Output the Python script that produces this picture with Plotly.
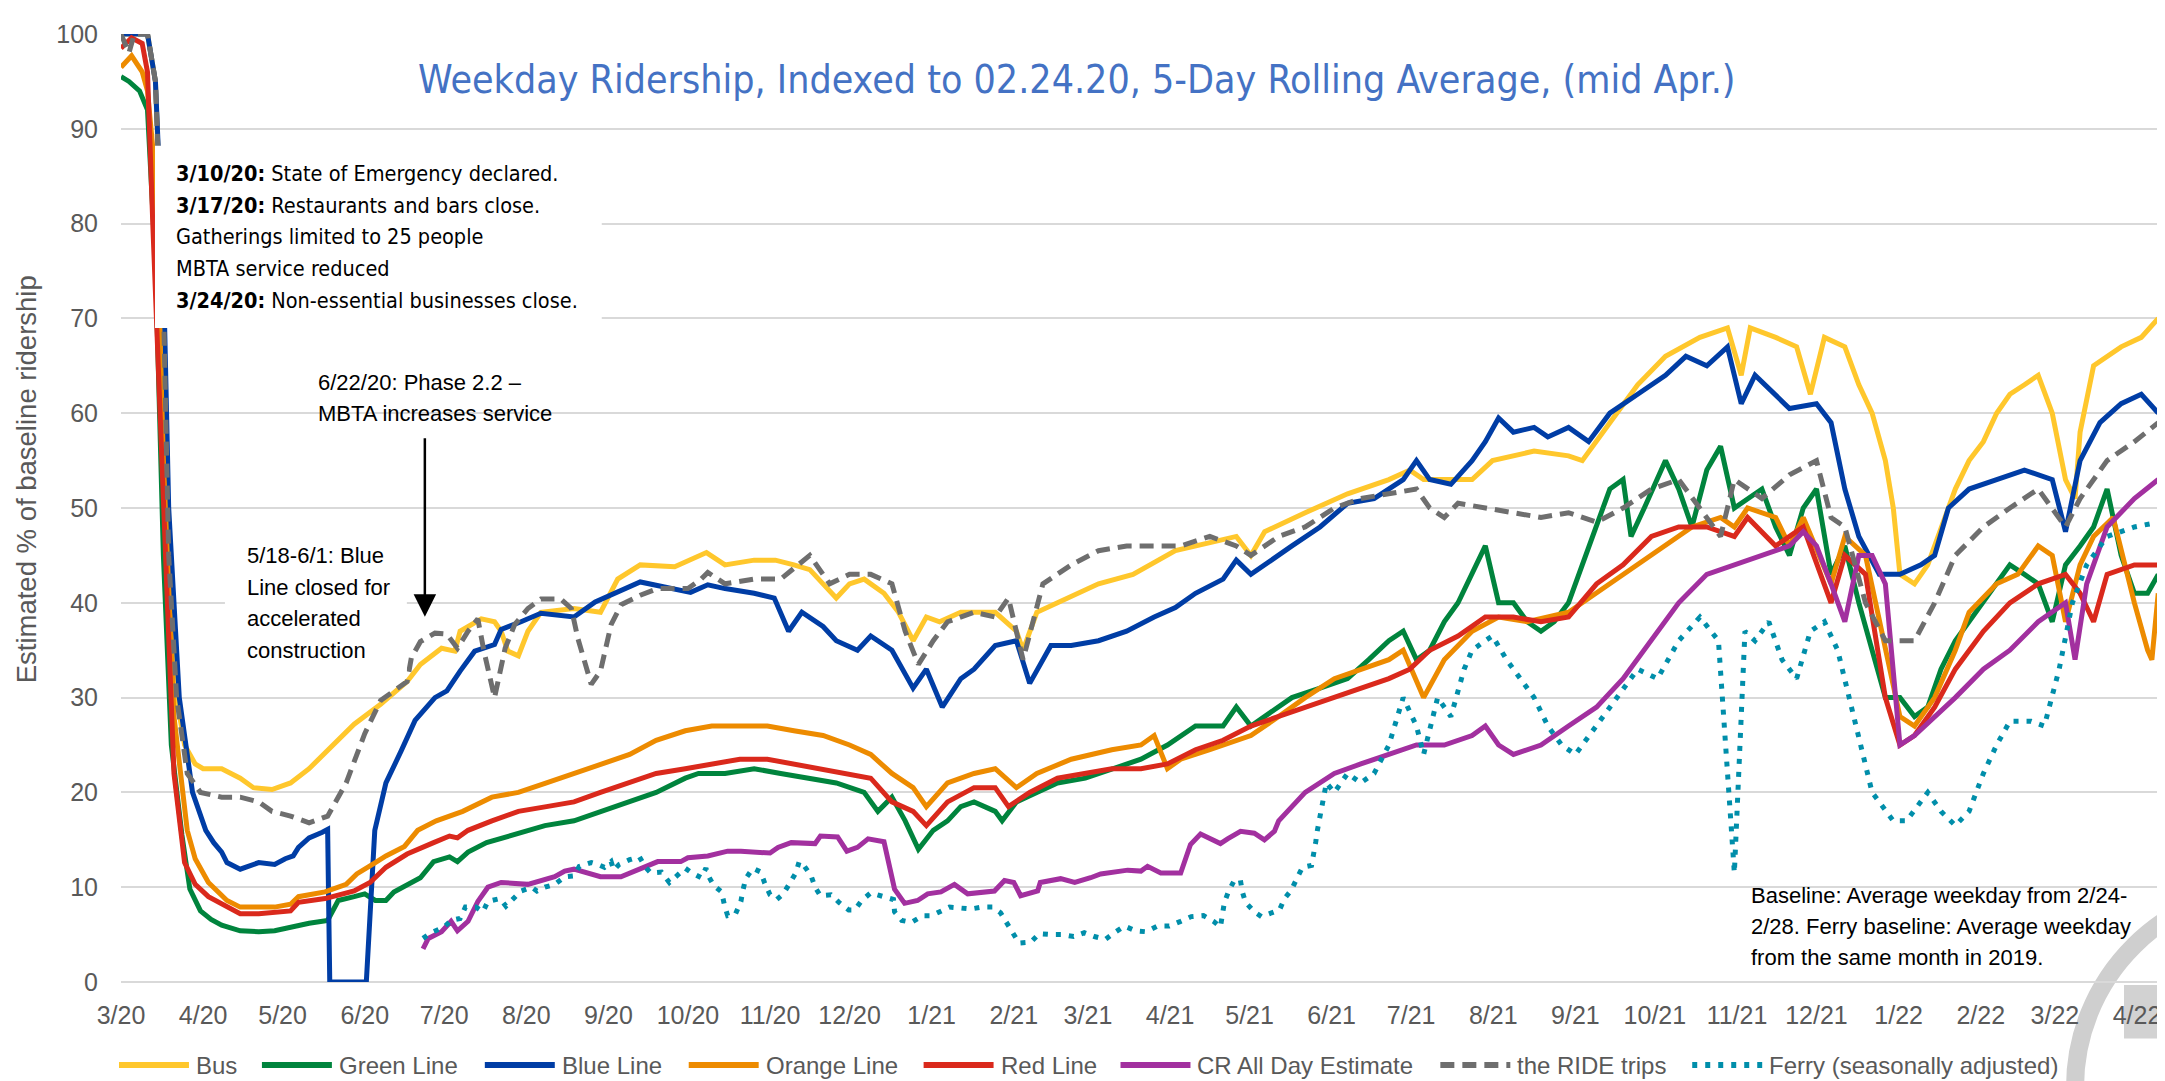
import pandas as pd
import plotly.graph_objects as go

START = pd.Timestamp("2020-03-01")
AXIS_END = "2022-04-09 07:00"

MONTH_TICKS = pd.date_range("2020-03-01", "2022-04-01", freq="MS")
MONTH_LABELS = [f"{d.month}/{d.year % 100}" for d in MONTH_TICKS]

# [days since 2020-03-01, % of baseline]
BUS = [(0,100),(10,100),(13,95),(16,72),(18,45),(21,30),(24,25),(28,23),(31,22.5),(38,22.5),(45,21.5),(50,20.5),(57,20.3),(64,21),(71,22.5),(78,24.4),(88,27.2),(98,29.3),(108,31.7),(113,33.5),(121,35.2),(126,34.9),(128,37),(136,38.3),(141,38),(143.5,37),(146,34.9),(150,34.4),(153.6,37),(158.5,39),(171,39.4),(181,39),(187.5,42.5),(196,44),(209,43.8),(221,45.3),
       (228,44),(239,44.5),(247,44.5),(254,44),(260,43.5),(265,42),(270,40.5),(275,42),(280.5,42.5),(288,41),(293.5,39),(299,36),(304,38.5),(309,38),(317,39),(330,39),(338,37),(340.5,35),(345.7,39),(353.5,40),(369,42),(382,43),(398,45.5),(413.5,46.5),(421,47),(426.5,45),(431.7,47.5),(447,49.5),(463,51.5),(478.6,53),(486.5,54),(491.7,53),(510,53),(517.7,55),(533.4,56),(546.4,55.5),(551.6,55),(562,59),(572.5,63),(583,66),(596,68),(606.4,69),(611.6,64),(615,69),(624.6,68),(632.5,67),(637.7,62),(643,68),(650.7,67),(656,63),(661,60),(666,55),(669,50),(671.5,43),(677,42),(682,44),(687,48),(692.4,52),(697.6,55),(703,57),(708,60),(713,62),(718.5,63),(723.7,64),(729,60),(734,53),(737.6,51),(739.5,58),(744.6,65),(749.7,66),(755,67),(762.6,68),(769,70)]

GREEN = [(0,95.5),(3,95),(7,94),(10,92),(13,76),(16,45),(19,25),(23,15.5),(26,9.8),(30,7.5),(34,6.6),(38,6),(45,5.4),(52,5.3),(58,5.4),(64,5.8),(71,6.2),(78,6.5),(82,8.6),(88,9.0),(92,9.3),(96,8.6),(100,8.6),(103,9.5),(108,10.3),(113,11),(118,12.7),(124,13.2),(127,12.7),(131,13.7),(138,14.7),(146,15.4),(153,16),
         (160,16.5),(171,17),(181,18),(192,19),(202,20),(213,21.5),(218,22),(228,22),(239,22.5),(249,22),(260,21.5),(270,21),(280.5,20),(285.7,18),(291,19.5),(296,17),(301,14),(306.6,16),(312,17),(317,18.5),(322,19),(330,18),(332.6,17),(338,19),(345.7,20),(353.5,21),(364,21.5),(374,22.5),(385,23.5),(395,25),(400,26),(405.6,27),(416,27),(421,29),(426.5,27),(431.7,28),(442,30),(452.6,31),(463,32),(471,34),(478.6,36),(484,37),(489,34),(494,35),(499.5,38),(504.7,40),(510,43),(515,46),(520,40),(525.6,40),(530.8,38),(536,37),(541,38),(546.4,40),(551.6,44),(557,48),(562,52),(567,53),(570,47),(575,50),(583,55),(588,52),(593,48),(598.6,54),(603.8,56.5),(609,50),(614,51),(619.4,52),(624.6,48),(629.8,45),(635,50),(640,52),(645.5,43),(650.7,46),(656,40),(661,35),(666,30),(671.5,30),(677,28),(682,29),(687,33),(692.4,36),(697.6,38),(703,40),(708,42),(713,44),(718.5,43),(723.7,42),(729,38),(734,44),(739.5,46),(744.6,48),(749.7,52),(755,45),(760,41),(765,41),(769,43)]

BLUE = [(0,100),(10,100),(13,95),(16,75),(18,50),(22,30),(27,20),(32,16),(35,14.7),(38,13.7),(40,12.6),(45,11.9),(52,12.6),(58,12.4),(62,13),(65,13.3),(67,14.2),(71,15.2),(76,15.8),(78,16.1),(78.8,0),(92.6,0),(95.8,16),(100,21),(105.8,24.4),(111,27.6),(118.5,30),(123,30.7),(128,32.8),(133.5,34.9),(141,35.6),(143.5,37.2),(151,38),(158.5,38.9),(171,38.5),(179,40.1),(196,42.2),(201.5,41.9),(215,41.1),(221.5,41.9),
        (228,41.5),(239,41),(246.6,40.5),(252,37),(257,39),(265,37.5),(270,36),(278,35),(283,36.5),(291,35),(299,31),(304,33),(310,29),(317,32),(322,33),(330,35.5),(338,36),(343,31.5),(351,35.5),(358.7,35.5),(369,36),(379.6,37),(390,38.5),(398,39.5),(405.6,41),(416,42.5),(421,44.5),(426.5,43),(434,44.5),(442,46),(452.6,48),(463,50.5),(473,51),(484,53),(489,55),(494,53),(502,52.5),(510,55),(515,57),(520,59.5),(525.6,58),(533.4,58.5),(538.6,57.5),(546.4,58.5),(554,57),(562,60),(572.5,62),(583,64),(590.7,66),(598.6,65),(606.4,67),(611.6,61),(616.8,64),(624.6,62),(629.8,60.5),(640,61),(645.5,59),(650.7,52),(656,47),(663.7,43),(671.5,43),(679.4,44),(684.6,45),(689.8,50),(697.6,52),(708,53),(718.5,54),(729,53),(734,47.5),(739.5,55),(747,59),(755,61),(762.6,62),(769,60)]

ORANGE = [(0,96.5),(4,97.7),(8,96),(10,94),(13,85),(16,55),(20,28),(25,16),(28,13),(33,10.5),(40,8.6),(45,7.9),(58,7.9),(64,8.2),(67,9),(77,9.5),(85,10.3),(89,11.4),(96,12.6),(100,13.3),(107,14.3),(112,16),
          (119,17),(129,18),(140,19.5),(150,20),(160.6,21),(171,22),(181,23),(192,24),(202,25.5),(213,26.5),(223,27),(233.6,27),(244,27),(254,26.5),(265,26),(275,25),(283,24),(291,22),(299,20.5),(304,18.5),(312,21),(322,22),(330,22.5),(338,20.5),(345.7,22),(358.7,23.5),(374,24.5),(385,25),(390,26),(395,22.5),(400,23.5),(411,24.5),(421,25.5),(426.5,26),(437,28),(447,30),(458,32),(468,33),(478.6,34),(484,35),(491.7,30),(499.5,34),(510,37),(520,38.5),(530.8,38),(546.4,39),(551.6,40),(562,42),(572.5,44),(583,46),(593,48),(603.8,49),(609,48),(614,50),(624.6,49),(629.8,46),(635,49),(645.5,42),(650.7,47),(658.5,45),(666,35),(671.5,28),(677,27),(684.6,30),(692.4,35),(697.6,39),(708,42),(716,43),(723.7,46),(729,45),(734,38),(739.5,44),(744.6,47),(752,49),(760,40),(765,35),(766.6,34),(769,41)]

RED = [(0,98.5),(4,99.6),(8,99),(10,96),(12,80),(16,50),(20,22),(24,12.6),(28,10.3),(33,9),(40,8),(45,7.2),(52,7.2),(58,7.4),(64,7.5),(67,8.4),(77,8.8),(88,9.6),(94,10.5),(100,12.1),(108,13.5),(118,14.7),(124,15.4),(127,15.2),(131,16),
       (140,17),(150,18),(160.6,18.5),(171,19),(181,20),(192,21),(202,22),(213,22.5),(223,23),(233.6,23.5),(244,23.5),(254,23),(265,22.5),(275,22),(283,21.5),(291,19),(299,18),(304,16.5),(312,19),(322,20.5),(330,20.5),(335,18.5),(343,20),(353.5,21.5),(364,22),(374,22.5),(385,22.5),(395,23),(405.6,24.5),(416,25.5),(426.5,27),(437,28),(447,29),(458,30),(468,31),(478.6,32),(486.5,33),(494,35),(504.7,36.5),(515,38.5),(525.6,38.5),(536,38),(546.4,38.5),(557,42),(567,44),(577.7,47),(588,48),(598.6,48),(609,47),(614,49),(624.6,46),(635,48),(645.5,40),(650.7,45),(658.5,43),(666,30),(671.5,25),(677,26),(684.6,29),(692.4,33),(703,37),(713,40),(723.7,42),(734,43),(739.5,41),(744.6,38),(749.7,43),(760,44),(769,44)]

CR = [(114,3.5),(116,4.6),(121,5.3),(124.6,6.4),(127,5.4),(131,6.4),(134.7,8.5),(138.5,10),(143.5,10.5),(153.6,10.3),(163.7,11.1),(167.5,11.7),(171,11.9),(181,11.1),(188.7,11.1),(194,11.7),(199,12.2),(202.6,12.7),(211.3,12.7),(214,13.1),(221.5,13.3),(229,13.8),(234,13.8),(245,13.6),(248,14.2),(253,14.7),(262,14.6),(264,15.4),(270.5,15.3),(274,13.8),(278,14.2),(282,15.1),(288,14.8),(292,9.8),(295.8,8.3),(300.7,8.6),(304.5,9.3),(309.5,9.5),(314.6,10.3),(319.6,9.3),(329.7,9.6),(333.5,10.7),(337,10.5),(339.6,9.1),(346,9.6),(347,10.5),(354.7,10.9),(360,10.5),(366,11),(369.8,11.4),(380,11.8),(385,11.7),(387.5,12.2),(392.5,11.5),(400,11.5),(403.7,14.5),(407.5,15.6),(415,14.6),(417.7,15.1),(422.6,15.9),(427.8,15.7),(431.6,15),(435.4,15.9),
      (437,17),(447,20),(458,22),(468,23),(478.6,24),(489,25),(499.5,25),(510,26),(515,27),(520,25),(525.6,24),(536,25),(546.4,27),(557,29),(567,32),(577.7,36),(588,40),(598.6,43),(609,44),(619.4,45),(629.8,46),(635,47.5),(640,46),(645.5,42),(650.7,38),(656,45),(661,45),(666,42),(671.5,25),(677,26),(684.6,28),(692.4,30),(703,33),(713,35),(723.7,38),(734,40),(737.6,34),(742,42),(749.7,48),(760,51),(769,53)]

RIDE = [(0,100),(3,98),(5,100),(10,100),(13,95),(16,72),(18,45),(21,30),(25,22),(30,20),(38,19.5),(45,19.5),(52,19),(57,18),(64,17.5),(71,16.8),(78,17.5),(85,21),(92,26.2),(98,29.7),(103,30.7),(108,31.7),(109.6,34.2),(113,35.9),(118.5,36.8),(123,36.7),(127,35.2),(131,37),(134.7,38.3),(137,34.9),(141,30),(145,35.2),(148.6,37.7),(153.6,39.4),(158.5,40.4),(166,40.4),(170,39.4),(172.5,36.2),(177.5,31.4),(181,32.8),(185,37.7),(188.8,39.8),(196,40.8),(202.6,41.5),(214,41.5),(219,42.5),(221.5,43.2),
        (228,42),(239,42.5),(249,42.5),(260,45),(267.5,42),(275,43),(283,43),(291,42),(296,37),(301,33.5),(306.6,36),(312,38),(322,39),(330,38.5),(335,40.5),(340.5,34),(348,42),(358.7,44),(369,45.5),(379.6,46),(390,46),(400,46),(411,47),(421,46),(426.5,45),(437,47),(447,48),(458,50),(468,51),(478.6,51.5),(489,52),(494,50),(499.5,49),(504.7,50.5),(515,50),(525.6,49.5),(536,49),(546.4,49.5),(557,48.5),(567,50),(577.7,52),(588,53),(596,50),(603.8,47),(609,53),(619.4,51),(629.8,53.5),(640,55),(645.5,49),(650.7,48),(658.5,40),(666,36),(677,36),(684.6,40),(692.4,45),(703,48),(713,50),(723.7,52),(734,48),(739.5,51),(749.7,55),(760,57),(769,59)]

FERRY = [(114,4.6),(117,5.2),(122,5.8),(124.6,6.5),(128,6.7),(130,7.9),(134,7.9),(136.6,7.4),(138.5,8.5),(143,8.8),(145.3,8.0),(148,8.8),(151,9.6),(155,10),(157,9.6),(160,10),(163.7,10.3),(167.5,11.1),(171,11.2),(173,12.2),(177.5,12.6),(180,12.4),(182.5,12.1),(185,12.7),(186,11.8),(188,12.4),(192,12.9),(195.7,13.2),(197.7,12.2),(200,11.5),(204,11.6),(207,10.5),(209.5,11.2),(213,12.0),(215,11.6),(219,11),(220.8,12),(221.5,11.3),(223.7,10.2),(226.7,9.5),(227.8,8.1),(229,7.0),(232,7.2),(234,8.5),(234.7,9.6),(235.8,10.9),(238.5,12),(241.5,11.6),(243,10.4),(245,9.2),(247.5,8.7),(250,9.3),(252.4,10.4),(254.7,11.5),(256,12.7),(258,12.2),(260.5,11.2),(262,10),(264,9.1),(268,9.2),(271,8.4),(274.7,7.6),(277,7.6),(279.6,8.6),(283,9.4),(287.5,9.1),(291.6,8.7),(292,7.4),(294.7,6.5),(298.4,6.3),(302.6,7.0),(306,7.0),(309.7,7.5),(312.7,7.9),(317,7.8),(320.7,7.7),(325,7.9),(329,7.9),(332,7.3),(334.3,6.3),(337,5.2),(339,4.1),(343.4,4.2),(346.6,5.1),(351,5.0),(355.4,5.0),(359.6,4.8),(363.6,5.2),(367.4,4.8),(371.6,4.5),(375,5.2),(378.8,5.9),(383,5.4),(387,5.3),(391.3,5.9),(395.7,5.9),(400,6.4),(404,6.9),(408.6,7.0),(412.4,6.4),(415,5.8),(415.8,7.0),(416.5,8.4),(418,9.5),(420,10.6),(422.5,10.8),(423.3,9.5),(424.5,8.4),(427.8,7.4),(430.5,6.9),(433.9,7.3),(437.3,7.6),(439.2,8.8),(441.8,9.7),(443.8,10.9),(446,12.1),(449.4,12.3),(450.5,13.7),(451,14.8),(451.6,16),
         (455,21),(458,20),(463,22),(468,21),(473,22),(478.6,25),(484,30),(489,27),(491.7,24),(497,30),(502,28),(507,33),(510,35),(515,36),(517.7,36.5),(523,34),(528,32),(533.4,30),(538.6,27),(543.8,25),(549,24),(557,27),(564.7,30),(572.5,33),(580,32),(588,36),(596,38.5),(603,36),(609,11.5),(613,37),(616.8,36),(622,38),(627,34),(632.5,32),(637.7,37),(643,38),(648,35),(656,26),(661,20),(669,17),(674,17),(682,20),(687,18),(692.4,16.5),(697.6,18),(703,22),(708,25),(713,27.5),(721,27.5),(726,27),(731.6,33),(736.6,40),(742,44),(749.7,47),(760,48),(769,48.5)]

SERIES = [
    ("Bus", BUS, "#FFC72C", "solid"),
    ("Green Line", GREEN, "#00843D", "solid"),
    ("Blue Line", BLUE, "#003DA5", "solid"),
    ("Orange Line", ORANGE, "#ED8B00", "solid"),
    ("Red Line", RED, "#DA291C", "solid"),
    ("CR All Day Estimate", CR, "#A2309F", "solid"),
    ("the RIDE trips", RIDE, "#6E6E6E", "14px,8px"),
    ("Ferry (seasonally adjusted)", FERRY, "#008EAA", "5px,8px"),
]

W, H = 2165, 1081
PL, PR, PT, PB = 113, 2152, 16, 974
def px(x): return (x - PL) / (PR - PL)
def py(y): return (PB - y) / (PB - PT)

COND = "DejaVu Sans Condensed, sans-serif"
ARIAL = "Liberation Sans, Arial, sans-serif"
GRAY = "#595959"

fig = go.Figure()
for name, pts, color, dash in SERIES:
    xs = [START + pd.Timedelta(days=d) for d, _ in pts]
    ys = [v for _, v in pts]
    fig.add_trace(go.Scatter(x=xs, y=ys, mode="lines", name=name, showlegend=False,
                             line=dict(color=color, width=5, dash=dash)))

fig.update_layout(
    width=W, height=H,
    margin=dict(l=PL, r=W - PR, t=PT, b=H - PB),
    paper_bgcolor="white", plot_bgcolor="white",
    font=dict(family=ARIAL, color=GRAY),
    showlegend=False,
    xaxis=dict(type="date", range=[START, AXIS_END], tickvals=MONTH_TICKS, ticktext=MONTH_LABELS,
               showgrid=False, zeroline=False, showline=False, ticks="",
               tickfont=dict(size=25, color=GRAY), ticklabelstandoff=16),
    yaxis=dict(range=[0, 100], dtick=10, tick0=0, showgrid=True, gridcolor="#D9D9D9", gridwidth=2,
               zeroline=True, zerolinecolor="#D9D9D9", zerolinewidth=2, showline=False, ticks="",
               tickfont=dict(size=25, color=GRAY), ticklabelstandoff=22),
)

shapes = [
    dict(type="rect", xref="paper", yref="paper", x0=px(147), x1=px(594), y0=py(313), y1=py(129),
         fillcolor="white", line=dict(width=0), layer="above"),
    dict(type="rect", xref="paper", yref="paper", x0=px(217), x1=px(399), y0=py(666), y1=py(512),
         fillcolor="white", line=dict(width=0), layer="above"),
    dict(type="rect", xref="paper", yref="paper", x0=px(2117), x1=px(2170), y0=py(1031), y1=py(977),
         fillcolor="#D2D2D2", line=dict(width=0), layer="below"),
    dict(type="circle", xref="paper", yref="paper", x0=px(2270 - 202), x1=px(2270 + 202),
         y0=py(1080 + 202), y1=py(1080 - 202), line=dict(color="#CFCFCF", width=18),
         fillcolor="rgba(0,0,0,0)", layer="below"),
]

# legend row (keys + labels)
LEG_Y = 1058
LEG_KEY_X = [111, 254, 477, 681, 916, 1113, 1433, 1685]
LEG_KEY_LEN = 70
for (name, pts, color, dash), kx in zip(SERIES, LEG_KEY_X):
    shapes.append(dict(type="line", xref="paper", yref="paper", x0=px(kx), x1=px(kx + LEG_KEY_LEN),
                       y0=py(LEG_Y), y1=py(LEG_Y), line=dict(color=color, width=6, dash=dash)))
    fig.add_annotation(xref="paper", yref="paper", x=px(kx + LEG_KEY_LEN + 5), y=py(LEG_Y), text=name,
                       showarrow=False, xanchor="left", yanchor="middle",
                       font=dict(size=24, family=ARIAL, color=GRAY))
fig.update_layout(shapes=shapes)

def text_lines(lines, x, y0, step, size, family, color="black"):
    for i, t in enumerate(lines):
        fig.add_annotation(xref="paper", yref="paper", x=px(x), y=py(y0 + i * step), text=t,
                           showarrow=False, xanchor="left", yanchor="middle",
                           font=dict(size=size, family=family, color=color))

text_lines(["<b>3/10/20:</b> State of Emergency declared.",
            "<b>3/17/20:</b> Restaurants and bars close.",
            "Gatherings limited to 25 people",
            "MBTA service reduced",
            "<b>3/24/20:</b> Non-essential businesses close."], 166, 157, 32, 21.5, COND)
text_lines(["6/22/20: Phase 2.2 \u2013", "MBTA increases service"], 308, 368, 32, 22, ARIAL)
text_lines(["5/18-6/1: Blue", "Line closed for", "accelerated", "construction"], 237, 543, 32, 22, ARIAL)
text_lines(["Baseline: Average weekday from 2/24-", "2/28. Ferry baseline: Average weekday",
            "from the same month in 2019."], 1742, 887, 31, 22, ARIAL)

fig.add_annotation(xref="paper", yref="paper", x=px(417), y=py(605), ax=0, ay=-180, text="",
                   showarrow=True, arrowhead=2, arrowsize=1.8, arrowwidth=2.5, arrowcolor="black")

fig.add_annotation(xref="paper", yref="paper", x=px(1069), y=py(62),
                   text="Weekday Ridership, Indexed to 02.24.20, 5-Day Rolling Average, (mid Apr.)",
                   showarrow=False, xanchor="center", yanchor="middle",
                   font=dict(size=39, family=COND, color="#4472C4"))

fig.add_annotation(xref="paper", yref="paper", x=(18 - PL) / (PR - PL), y=py(466),
                   text="Estimated % of baseline ridership", textangle=-90, showarrow=False,
                   xanchor="center", yanchor="middle", font=dict(size=27.5, family=ARIAL, color=GRAY))

fig.write_html("out.html")
